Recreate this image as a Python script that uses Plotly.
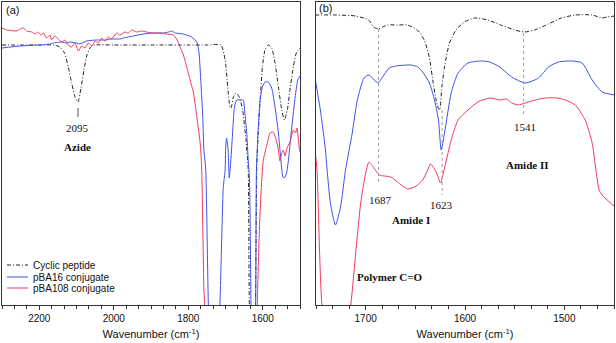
import plotly.graph_objects as go

# ---------------- Panel (a) data: wavenumber (cm-1) vs transmittance (a.u.) ----------------
pep_a_wn = [2300, 2250, 2200, 2160, 2145, 2132, 2122, 2113, 2104, 2096, 2088, 2080, 2072, 2062, 2050,
            2000, 1900, 1800, 1750, 1712, 1701, 1694, 1688, 1685, 1679, 1672, 1663, 1654, 1645, 1639,
            1636, 1626, 1619.5, 1616, 1612, 1607, 1601, 1594, 1585, 1576, 1567, 1558, 1549, 1542, 1534,
            1527, 1518, 1509, 1500]
pep_a_t = [260, 260, 260, 260, 258, 252, 238, 222, 208, 203, 217, 235, 250, 258, 260,
           260, 260, 260, 260, 260, 245, 218, 198, 197, 208, 212, 208, 195, 165, 135,
           0, -115, 0, 138, 172, 205, 238, 255, 260, 257, 242, 218, 195, 185, 195,
           215, 238, 253, 257]

b16_a_wn = [2300, 2252, 2198, 2171, 2162, 2153, 2140, 2126, 2118, 2100, 2091, 2073, 2046, 2019, 2010,
            1983, 1974, 1948, 1921, 1894, 1867, 1853, 1844, 1835, 1813, 1791, 1777, 1771, 1766, 1761,
            1758, 1753, 1746, 1730, 1715, 1710, 1706, 1701, 1699.5, 1697, 1693, 1690, 1685, 1680, 1676,
            1670, 1656, 1652, 1648, 1643, 1639, 1635.5, 1631.5, 1625, 1619, 1617, 1612, 1607, 1601, 1594,
            1585, 1576, 1567, 1558, 1552, 1546, 1542, 1536, 1531, 1522, 1513, 1506, 1500]
b16_a_t = [257, 259, 260, 261, 262, 262.5, 263, 262, 263, 262, 261, 264, 265, 265, 266,
           266, 267, 269, 271, 272, 272, 273, 274, 272, 271, 268, 263, 252, 222, 188,
           155, 135, 0, -150, 0, 68, 118, 135, 158, 167, 155, 127, 148, 178, 198,
           205, 205, 205, 192, 172, 145, 125, 0, -115, 0, 135, 178, 205, 218, 223,
           223, 217, 198, 172, 148, 128, 127, 132, 145, 178, 208, 225, 229]

b108_a_wn = [2300, 2287, 2260, 2252, 2243, 2234, 2220, 2211, 2203, 2196, 2189, 2180, 2171, 2167, 2158,
             2149, 2140, 2131, 2122, 2113, 2104, 2095, 2086, 2077, 2068, 2059, 2050, 2042, 2032, 2024,
             2015, 2006, 1992, 1983, 1970, 1961, 1952, 1938, 1925, 1912, 1894, 1876, 1858, 1840, 1830,
             1822, 1813, 1804, 1795, 1786, 1777, 1768, 1764, 1758, 1755, 1730, 1700, 1687, 1650, 1623,
             1614.6, 1610, 1605, 1598.5, 1589, 1580.5, 1572, 1562.5, 1558, 1554, 1548, 1545, 1540, 1535,
             1527, 1518, 1512, 1508, 1502, 1500]
b108_a_t = [277, 275, 274, 276, 277, 274, 273, 271, 273, 270, 272, 267, 270, 265, 269,
            266, 263, 265, 260, 258, 262, 254, 259, 257, 262, 259, 264, 262, 267, 264,
            268, 266, 272, 270, 273, 272, 275, 273, 274, 273, 272, 272, 271, 270, 265,
            258, 250, 238, 225, 212, 188, 162, 138, 15, -5, -300, -150, -170, -180, -200,
            0, 65, 110, 145, 160, 172, 173, 163, 155, 144, 153, 155, 149, 157,
            163, 175, 172, 177, 157, 153]

# ---------------- Panel (b) data ----------------
pep_b_wn = [1751, 1730, 1710, 1697, 1692, 1687, 1683, 1678, 1668, 1658, 1648, 1641, 1636, 1632, 1628,
            1625.6, 1623.3, 1620.6, 1615.6, 1609, 1600.6, 1590.5, 1577, 1564, 1550, 1540, 1530, 1516,
            1503, 1489, 1472, 1462, 1457, 1449]
pep_b_t = [290, 290, 289, 285, 278, 276, 278, 280, 280, 280, 275, 265, 248, 222, 200,
           195, 218, 238, 262, 275, 283, 287, 285, 280, 275, 273, 275, 281,
           287, 290, 290, 287, 288, 289]

b16_b_wn = [1751, 1745.6, 1740.5, 1738.8, 1735.5, 1730.4, 1725.3, 1720.3, 1713.5, 1708.4, 1701.6,
            1696.6, 1691.5, 1687.4, 1683, 1676.3, 1669.6, 1654.4, 1647.6, 1642.6, 1635.8, 1630.7,
            1626.7, 1624, 1620.6, 1613.9, 1607, 1597, 1583.5, 1575, 1565, 1553, 1539.5, 1526, 1516,
            1506, 1492.3, 1482, 1472, 1462, 1449]
b16_b_t = [227, 195, 155, 135, 102, 80, 98, 135, 172, 205, 227,
           230, 225, 222, 228, 237, 239, 240, 238, 233, 222, 205,
           185, 155, 172, 212, 232, 242, 244, 243, 238, 228, 222, 227, 238,
           243, 244, 242, 225, 213, 210]

b108_b_wn = [1751, 1749, 1744, 1730, 1715, 1710, 1705, 1700, 1696.6, 1691.5, 1686.4, 1674.7, 1668,
             1657.8, 1649.3, 1642.6, 1637.5, 1634.7, 1629, 1624.6, 1620.6, 1613.9, 1607, 1597, 1587,
             1575, 1565, 1558, 1553, 1546.3, 1539.5, 1529.4, 1519, 1507.5, 1499, 1489, 1479, 1472,
             1468.6, 1465, 1462, 1449]
b108_b_t = [155, 135, 0, -100, 0, 52, 102, 132, 143, 137, 130, 128, 123,
            116, 119, 125, 135, 141, 133, 122, 137, 165, 185, 195, 203,
            207, 205, 206, 202, 200, 202, 205, 207, 207, 205, 200, 185, 162,
            138, 115, 110, 98]

names = ["Cyclic peptide", "pBA16 conjugate", "pBA108 conjugate"]
colors = ["#222222", "#3F51EC", "#F23A5E"]
dashes = ["4px,2px,1px,2px", "solid", "solid"]

# peak labels (panel b)
peak_wn = [1687, 1623, 1541]
peak_top = [276, 195, 272]
peak_bot = [120, 110, 188]

fig = go.Figure()

series_a = [(pep_a_wn, pep_a_t), (b16_a_wn, b16_a_t), (b108_a_wn, b108_a_t)]
series_b = [(pep_b_wn, pep_b_t), (b16_b_wn, b16_b_t), (b108_b_wn, b108_b_t)]
for i, (xs, ys) in enumerate(series_a):
    fig.add_trace(go.Scatter(x=xs, y=ys, mode="lines", name=names[i], showlegend=False,
                             line=dict(color=colors[i], width=1, dash=dashes[i], shape="spline", smoothing=0.5),
                             xaxis="x", yaxis="y"))
for i, (xs, ys) in enumerate(series_b):
    fig.add_trace(go.Scatter(x=xs, y=ys, mode="lines", name=names[i], showlegend=False,
                             line=dict(color=colors[i], width=1, dash=dashes[i], shape="spline", smoothing=0.6),
                             xaxis="x2", yaxis="y2"))

W, H = 616, 343
ML, MR, MT, MB = 2, 2, 2, 38
PW, PH = W - ML - MR, H - MT - MB


def px(xp):
    return (xp - ML) / PW


def py(yp):
    return (H - MB - yp) / PH


axis_font = dict(family="Liberation Sans, Arial", size=10, color="#111")
common_x = dict(showline=True, linecolor="#333", linewidth=1, mirror=True, ticks="outside",
                ticklen=4, tickcolor="#333", showgrid=False, zeroline=False, tickfont=axis_font,
                title=dict(text="Wavenumber (cm<sup>-1</sup>)",
                           font=dict(family="Liberation Sans, Arial", size=11, color="#111"), standoff=7))
common_y = dict(showline=True, linecolor="#333", linewidth=1, mirror=True, ticks="", showticklabels=False,
                showgrid=False, zeroline=False, range=[0, 303])

fig.update_layout(
    width=W, height=H, margin=dict(l=ML, r=MR, t=MT, b=MB),
    paper_bgcolor="white", plot_bgcolor="white",
    xaxis=dict(common_x, domain=[0, px(300)], range=[2300, 1500], dtick=200, tick0=1600,
               minor=dict(dtick=200 / 6, tick0=1600, ticks="outside", ticklen=3, tickcolor="#333")),
    yaxis=dict(common_y, anchor="x"),
    xaxis2=dict(common_x, domain=[px(316), 1], range=[1750, 1450], dtick=100, tick0=1500, anchor="y2",
                minor=dict(dtick=100 / 6, tick0=1500, ticks="outside", ticklen=3, tickcolor="#333")),
    yaxis2=dict(common_y, anchor="x2"),
)

serif = "Liberation Serif, Times New Roman"
tfont = dict(family=serif, size=11, color="#111")
ann = []
ann.append(dict(text="(a)", xref="paper", yref="paper", x=px(4), y=py(10), xanchor="left", yanchor="middle",
                showarrow=False, font=dict(family="Liberation Sans, Arial", size=11, color="#111")))
ann.append(dict(text="(b)", xref="paper", yref="paper", x=px(317), y=py(8), xanchor="left", yanchor="middle",
                showarrow=False, font=dict(family="Liberation Sans, Arial", size=11, color="#111")))
ann.append(dict(text="2095", xref="x", yref="y", x=2096, y=177, showarrow=False, font=tfont))
ann.append(dict(text="<b>Azide</b>", xref="x", yref="y", x=2097, y=158, showarrow=False, font=tfont))
ann.append(dict(text="1687", xref="x2", yref="y2", x=1685, y=105, showarrow=False, font=tfont))
ann.append(dict(text="1623", xref="x2", yref="y2", x=1624, y=100, showarrow=False, font=tfont))
ann.append(dict(text="1541", xref="x2", yref="y2", x=1540, y=178, showarrow=False, font=tfont))
ann.append(dict(text="<b>Amide I</b>", xref="x2", yref="y2", x=1654, y=85, showarrow=False, font=tfont))
ann.append(dict(text="<b>Amide II</b>", xref="x2", yref="y2", x=1538, y=140, showarrow=False, font=tfont))
ann.append(dict(text="<b>Polymer C=O</b>", xref="x2", yref="y2", x=1676, y=28, showarrow=False, font=tfont))

shapes = []
# small marker under azide band
shapes.append(dict(type="line", xref="x", yref="y", x0=2096, x1=2096, y0=197, y1=188,
                   line=dict(color="#555", width=1)))
for w, t, b in zip(peak_wn, peak_top, peak_bot):
    shapes.append(dict(type="line", xref="x2", yref="y2", x0=w, x1=w, y0=t, y1=b,
                       line=dict(color="#9a9a9a", width=1, dash="dot")))

# manual legend
leg_y = [265, 277, 288]
for i in range(3):
    shapes.append(dict(type="line", xref="paper", yref="paper", x0=px(7), x1=px(28), y0=py(leg_y[i]),
                       y1=py(leg_y[i]), line=dict(color=colors[i], width=1, dash=dashes[i])))
    ann.append(dict(text=names[i], xref="paper", yref="paper", x=px(31), y=py(leg_y[i]), xanchor="left",
                    yanchor="middle", showarrow=False,
                    font=dict(family="Liberation Sans, Arial", size=10, color="#111")))

fig.update_layout(annotations=ann, shapes=shapes)
fig.write_html("out.html")
